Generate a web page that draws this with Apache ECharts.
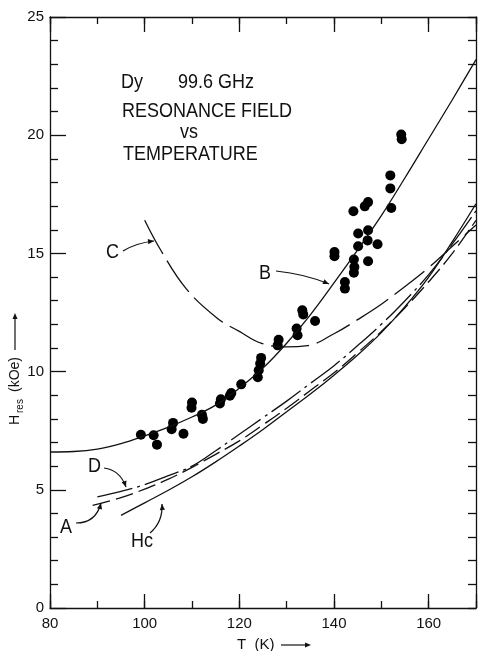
<!DOCTYPE html>
<html><head><meta charset="utf-8">
<script src="https://cdn.jsdelivr.net/npm/echarts@6/dist/echarts.min.js"></script>
<style>html,body{margin:0;padding:0;background:#fff}#c{width:479px;height:651px}</style>
</head><body><div id="c"></div>
<script>
// ---- data (T in K, H in kOe) ----
const xTicks = [80, 100, 120, 140, 160];
const yTicks = [0, 5, 10, 15, 20, 25];
const measured = [
  [99.2,7.33],[101.9,7.31],[102.6,6.91],[106.0,7.83],[105.7,7.56],[108.2,7.37],
  [110.0,8.69],[109.9,8.47],[112.1,8.17],[112.3,8.00],[116.1,8.83],[115.9,8.65],
  [118.3,9.09],[118.0,8.98],[120.4,9.46],[124.6,10.58],[124.4,10.34],[124.1,10.06],
  [123.9,9.76],[128.3,11.35],[128.1,11.11],[132.1,11.82],[132.3,11.54],[133.3,12.59],
  [133.5,12.42],[136.0,12.14],[142.3,13.79],[142.3,13.51],[140.1,15.06],[140.1,14.88],
  [144.2,14.74],[144.3,14.42],[144.2,14.18],[145.1,15.84],[145.1,15.30],[147.2,15.98],
  [147.1,15.55],[147.2,14.67],[149.2,15.39],[144.1,16.78],[146.5,16.99],[147.2,17.17],
  [152.1,16.92],[151.9,17.75],[151.9,18.30],[154.2,20.03],[154.3,19.83]
];
const curveB = [[80,6.6],[85,6.62],[90,6.72],[95,6.95],[100,7.28],[105,7.65],[110,8.08],[115,8.58],
  [120,9.3],[125,10.15],[130,11.2],[135,12.4],[140,13.75],[145,15.15],[150,16.6],[155,18.2],
  [160,19.85],[165,21.5],[170,23.2]];
const curveC = [[100,16.4],[103.5,15.1],[108.8,13.5],[115.4,12.25],[120,11.7],[124.6,11.2],
  [129.8,11.05],[134.4,11.1],[140,11.6],[145,12.2],[150,12.85],[155,13.6],[160,14.4],[165,15.3],[170,16.2]];
const curveD = [[90,4.7],[95,4.93],[100,5.22],[105,5.6],[110,6.0],[115,6.65],[120,7.35],[125,8.05],
  [130,8.75],[135,9.5],[140,10.25],[145,11.1],[150,12.0],[155,13.0],[160,14.1],[165,15.4],[170,16.8]];
const curveA = [[89,4.34],[95,4.67],[100,5.03],[105,5.45],[110,5.95],[115,6.5],[120,7.07],[125,7.75],
  [130,8.45],[135,9.2],[140,9.95],[145,10.8],[150,11.7],[155,12.7],[160,13.8],[165,15.0],[170,16.4]];
const curveHc = [[95,3.92],[100,4.45],[105,4.98],[110,5.55],[115,6.18],[120,6.85],[125,7.55],
  [130,8.3],[135,9.05],[140,9.85],[145,10.7],[150,11.65],[155,12.75],[160,14.0],[165,15.5],[170,17.1]];

const INK = '#111';
const FONT = '"Liberation Sans", Arial, sans-serif';
const chart = echarts.init(document.getElementById('c'), null, {renderer: 'canvas'});

const baseAxis = {
  min: 80, max: 170, type: 'value', splitLine: {show: false},
  axisLine: {show: true, lineStyle: {color: INK, width: 1.3}},
};
const yBase = {
  min: 0, max: 25, type: 'value', splitLine: {show: false},
  axisLine: {show: true, lineStyle: {color: INK, width: 1.3}},
};

function lineSeries(data, type, width) {
  return {
    type: 'line', data: data, showSymbol: false, symbol: 'none', smooth: 0.4,
    xAxisIndex: 0, yAxisIndex: 0, silent: true,
    lineStyle: {color: INK, width: width || 1.3, type: type}
  };
}

function arrowHead(x, y, fx, fy, len, half) {
  const dx = x - fx, dy = y - fy, L = Math.hypot(dx, dy);
  const ux = dx / L, uy = dy / L;
  const bx = x - ux * len, by = y - uy * len;
  return {type: 'polygon', shape: {points: [[x, y], [bx - uy * half, by + ux * half], [bx + uy * half, by - ux * half]]},
    style: {fill: INK}};
}
function curvedArrow(x1, y1, cx, cy, x2, y2) {
  return [
    {type: 'bezierCurve', shape: {x1: x1, y1: y1, x2: x2, y2: y2, cpx1: cx, cpy1: cy},
      style: {stroke: INK, lineWidth: 1.2, fill: null}},
    arrowHead(x2, y2, cx, cy, 6, 2.6)
  ];
}
function label(text, x, y, size, sy) {
  return {type: 'text', x: x, y: y, scaleY: sy || 1, originX: 0, originY: 0,
    style: {text: text, fill: INK, font: size + 'px ' + FONT, textVerticalAlign: 'middle'}};
}
function vlabel(text, x, y, size) {
  return {type: 'text', x: x, y: y, rotation: Math.PI / 2, originX: 0, originY: 0,
    style: {text: text, fill: INK, font: size + 'px ' + FONT, textAlign: 'left', textVerticalAlign: 'middle'}};
}

const graphics = [
  label('Dy', 121, 83, 18, 1.08),
  label('99.6 GHz', 178, 83, 18, 1.08),
  label('RESONANCE FIELD', 122, 112, 18, 1.08),
  label('vs', 180, 133, 18, 1.08),
  label('TEMPERATURE', 123, 155, 18, 1.08),
  label('C', 106, 253, 18, 1.08),
  label('B', 259, 274, 18, 1.08),
  label('D', 88, 467, 18, 1.08),
  label('A', 60, 528, 18, 1.08),
  label('Hc', 131, 542, 18, 1.08),
  ...curvedArrow(123, 251, 136, 243, 154, 241),
  ...curvedArrow(276, 271, 305, 274, 329, 284),
  ...curvedArrow(104, 468, 120, 470, 126, 487),
  ...curvedArrow(76, 523, 96, 523, 101, 503),
  ...curvedArrow(150, 533, 163, 522, 162, 504),
  // x-axis title
  label('T  (K)', 237, 645, 15),
  {type: 'line', shape: {x1: 281, y1: 645, x2: 308, y2: 645}, style: {stroke: INK, lineWidth: 1.2}},
  arrowHead(311, 645, 300, 645, 6, 2.5),
  // y-axis title
  vlabel('H', 15, 425, 14),
  vlabel('res', 20, 413, 10),
  vlabel('(kOe)', 15, 392, 14),
  {type: 'line', shape: {x1: 15, y1: 350, x2: 15, y2: 318}, style: {stroke: INK, lineWidth: 1.2}},
  arrowHead(15, 313, 15, 330, 6, 2.5)
];

chart.setOption({
  animation: false,
  backgroundColor: '#fff',
  grid: {left: 50, right: 3, top: 17, bottom: 43, containLabel: false, outerBoundsMode: 'none'},
  xAxis: [
    Object.assign({}, baseAxis, {position: 'bottom', interval: 20,
      axisTick: {show: true, inside: true, length: 14, lineStyle: {color: INK, width: 1.3}},
      axisLabel: {show: true, margin: 8, color: INK, fontSize: 15, fontFamily: FONT,
        formatter: v => (xTicks.indexOf(v) >= 0 ? String(v) : '')}}),
    Object.assign({}, baseAxis, {position: 'bottom', interval: 10,
      axisLine: {show: false},
      axisTick: {show: true, inside: true, length: 7, lineStyle: {color: INK, width: 1.3}},
      axisLabel: {show: false}}),
    Object.assign({}, baseAxis, {position: 'top', interval: 20,
      axisTick: {show: true, inside: true, length: 15, lineStyle: {color: INK, width: 1.3}},
      axisLabel: {show: false}}),
    Object.assign({}, baseAxis, {position: 'top', interval: 10,
      axisLine: {show: false},
      axisTick: {show: true, inside: true, length: 7, lineStyle: {color: INK, width: 1.3}},
      axisLabel: {show: false}})
  ],
  yAxis: [
    Object.assign({}, yBase, {position: 'left', interval: 5,
      axisTick: {show: true, inside: true, length: 16, lineStyle: {color: INK, width: 1.3}},
      minorTick: {show: true, splitNumber: 5, length: 8, lineStyle: {color: INK, width: 1.3}},
      axisLabel: {show: true, margin: 6, color: INK, fontSize: 15, fontFamily: FONT,
        formatter: v => (yTicks.indexOf(v) >= 0 ? String(v) : '')}}),
    Object.assign({}, yBase, {position: 'right', interval: 1,
      axisTick: {show: true, inside: true, length: 8, lineStyle: {color: INK, width: 1.3}},
      axisLabel: {show: false}})
  ],
  series: [
    lineSeries(curveB, 'solid'),
    lineSeries(curveC, [38, 8]),
    lineSeries(curveD, [36, 5, 3, 5]),
    lineSeries(curveA, [18, 6]),
    lineSeries(curveHc, 'solid'),
    {type: 'scatter', data: measured, symbol: 'circle', symbolSize: 10,
      itemStyle: {color: '#000', opacity: 1}, xAxisIndex: 0, yAxisIndex: 0, silent: true}
  ],
  graphic: graphics
});
</script>
</body></html>
